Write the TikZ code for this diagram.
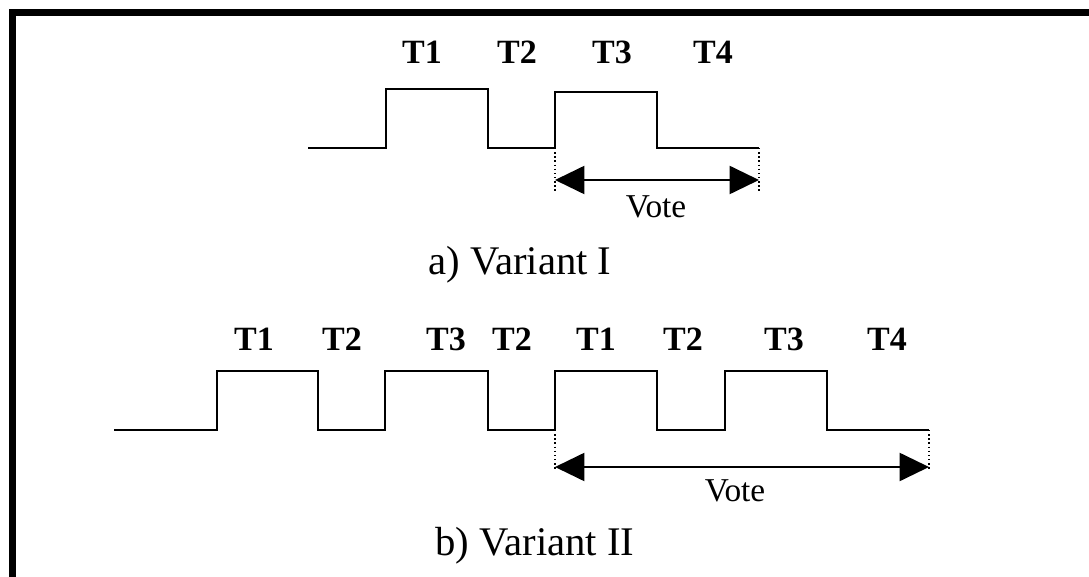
\documentclass[tikz,border=0pt]{standalone}
\usepackage{fontspec}
\setmainfont{Liberation Serif}
\usetikzlibrary{arrows.meta}
\begin{document}
\begin{tikzpicture}[x=0.75pt,y=-0.75pt,
  wave/.style={line width=1.6pt,line join=miter},
  span/.style={line width=1.5pt,{Triangle[length=22pt,width=21pt]}-{Triangle[length=22pt,width=21pt]}},
  limit/.style={line width=1.1pt,dotted},
  slot/.style={font=\bfseries\fontsize{25.5}{28}\selectfont,anchor=base,inner sep=0pt},
  votelabel/.style={font=\fontsize{25}{28}\selectfont,anchor=base,inner sep=0pt},
  caption/.style={font=\fontsize{30.5}{34}\selectfont,anchor=base,inner sep=0pt}]
\useasboundingbox (0,0) rectangle (1089,577);
\clip (0,0) rectangle (1089,577);
% outer frame
\draw[line width=4.6pt] (12.5,600) -- (12.5,12.5) -- (1100,12.5);

% ---- a) Variant I ----
\draw[wave] (308,148) -| (386,89) -| (488,148) -| (555,92) -| (657,148) -- (759,148);
\coordinate (a1) at (555,148);
\coordinate (a2) at (759,148);
\coordinate (a1b) at (555,193);
\coordinate (a2b) at (759,193);
\coordinate (a1m) at (555,180);
\coordinate (a2m) at (759,180);
\draw[limit] (a1) -- (a1b);
\draw[limit] (a2) -- (a2b);
\draw[span] (a1m) -- (a2m);
\node[slot] (ia) at (422,64) {T1};
\node[slot] (ib) at (517,64) {T2};
\node[slot] (ic) at (612,64) {T3};
\node[slot] (id) at (713,64) {T4};
\node[votelabel] (va) at (656,218) {Vote};
\node[caption] (ca) at (520,275) {a) Variant I};

% ---- b) Variant II ----
\draw[wave] (114,430) -| (217,371) -| (318,430) -| (385,371) -| (488,430) -| (555,371) -| (657,430) -| (725,371) -| (827,430) -- (929,430);
\coordinate (b1) at (555,430);
\coordinate (b2) at (929,430);
\coordinate (b1b) at (555,470);
\coordinate (b2b) at (929,470);
\coordinate (b1m) at (555,467);
\coordinate (b2m) at (929,467);
\draw[limit] (b1) -- (b1b);
\draw[limit] (b2) -- (b2b);
\draw[span] (b1m) -- (b2m);
\node[slot] (ja) at (254,350) {T1};
\node[slot] (jb) at (342,350) {T2};
\node[slot] (jc) at (446,350) {T3};
\node[slot] (jd) at (512,350) {T2};
\node[slot] (je) at (596,350) {T1};
\node[slot] (jf) at (683,350) {T2};
\node[slot] (jg) at (784,350) {T3};
\node[slot] (jh) at (887,350) {T4};
\node[votelabel] (vb) at (735,501) {Vote};
\node[caption] (cb) at (535,555) {b) Variant II};
\end{tikzpicture}
\end{document}
